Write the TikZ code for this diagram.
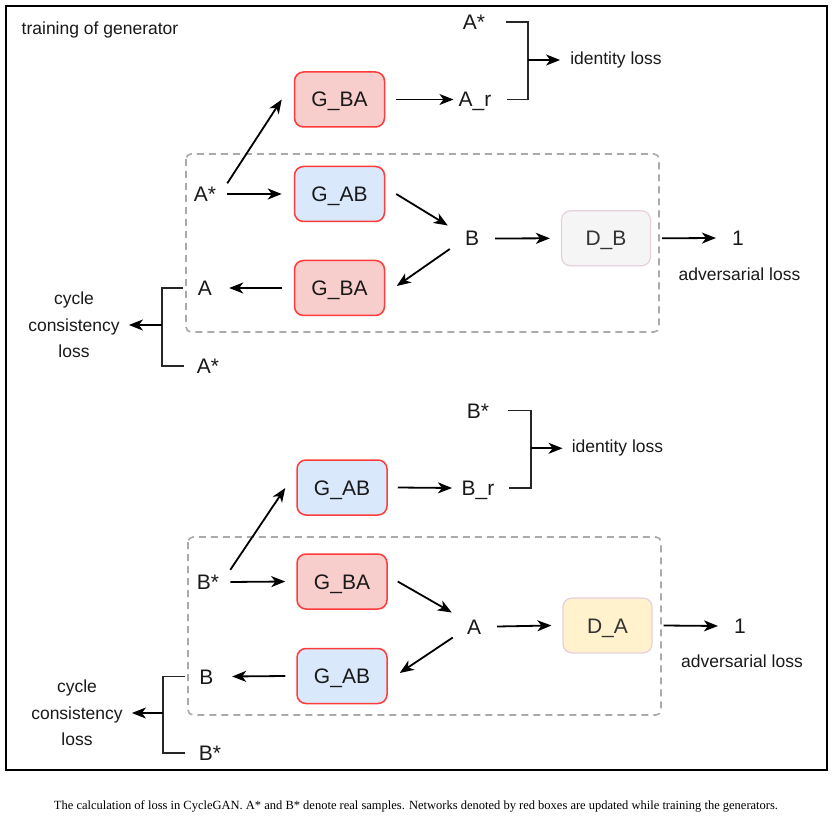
\documentclass[tikz,border=0pt]{standalone}
\usepackage{fontspec}
\setmainfont{Liberation Sans}
\newfontfamily\captionfont{Liberation Serif}
\usetikzlibrary{arrows.meta}

\definecolor{genred}{HTML}{FF3B3B}
\definecolor{redfill}{HTML}{F8CECC}
\definecolor{bluefill}{HTML}{DAE8FC}
\definecolor{greyfill}{HTML}{F5F5F5}
\definecolor{yellowfill}{HTML}{FFF2CC}
\definecolor{discpink}{HTML}{E6D0DE}
\definecolor{dashgray}{HTML}{AAAAAA}

\begin{document}
\begin{tikzpicture}[
  x=1pt, y=-1pt,
  gen/.style={draw=genred, line width=1.5pt, rounded corners=9pt, minimum width=90pt, minimum height=55pt, font=\fontsize{21}{25}\selectfont, text height=15pt, text depth=0pt, text=black!90},
  disc/.style={draw=discpink, line width=1.2pt, rounded corners=9pt, minimum width=89pt, minimum height=55pt, font=\fontsize{21}{25}\selectfont, text height=15pt, text depth=0pt, text=black!80},
  lbl/.style={inner sep=0pt, font=\fontsize{21}{25}\selectfont, text height=15pt, text depth=0pt, text=black!90},
  note/.style={inner sep=0pt, font=\fontsize{17.5}{26.7}\selectfont, text=black!90},
  arrow/.style={-{Stealth[length=14pt,width=11pt,inset=4pt]}, line width=1.8pt},
  bracket/.style={line width=1.8pt, black!85},
  group/.style={draw=dashgray, line width=1.6pt, dash pattern=on 7pt off 5pt, rounded corners=5pt}
]
\useasboundingbox (0,0) rectangle (833,818);
\draw[line width=2pt] (6,6) rectangle (827,770);
\node[note, anchor=west] (title) at (21.5,30) {training of generator};

% cycle A -> B -> A
\draw[group] (186,154) rectangle (659,332);
\node[lbl] (astarT) at (474,22) {A*};
\node[gen, fill=redfill] (gba1) at (339.5,99.5) {G\_BA};
\node[lbl] (ar) at (475,99.5) {A\_r};
\node[note] (idA) at (616,60) {identity loss};
\node[lbl] (astar1) at (205,194) {A*};
\node[gen, fill=bluefill] (gab1) at (339.5,194) {G\_AB};
\node[lbl] (b1) at (472,238.5) {B};
\node[disc, fill=greyfill] (db) at (606,238.3) {D\_B};
\node[lbl] (one1) at (738,238) {1};
\node[note] (advA) at (739.5,274) {adversarial loss};
\node[gen, fill=redfill] (gba2) at (339.5,288) {G\_BA};
\node[lbl] (a1) at (205,288) {A};
\node[lbl] (astar2) at (208,366) {A*};
\node[note, align=center] (cycA) at (74,325) {cycle\\consistency\\loss};

\draw[arrow] ([shift={(11,-3)}]astar1.north east) -- ([shift={(-12,0)}]gba1.west);
\draw[arrow] ([xshift=11pt]astar1.east) -- ([xshift=-12pt]gab1.west);
\draw[arrow] ([xshift=11pt]gba1.east) -- ([xshift=-5pt]ar.west);
\draw[arrow] ([xshift=11pt]gab1.east) -- ([shift={(-17,-13)}]b1.west);
\draw[arrow] ([xshift=16pt]b1.east) -- ([xshift=-11pt]db.west);
\draw[arrow] ([xshift=11pt]db.east) -- ([xshift=-16pt]one1.west);
\draw[arrow] ([shift={(-15,10.5)}]b1.west) -- ([shift={(11.5,-2)}]gba2.east);
\draw[arrow] ([xshift=-11.5pt]gba2.west) -- ([xshift=17pt]a1.east);
\draw[bracket] ([xshift=21pt]astarT.east) -- ++(22,0) coordinate (jA) |- ([xshift=15pt]ar.east);
\draw[arrow] (jA |- idA.west) -- ([xshift=-10pt]idA.west);
\draw[bracket] ([xshift=-15pt]a1.west) -- ++(-21,0) coordinate (jC) |- ([xshift=-13pt]astar2.west);
\draw[arrow] (jC |- cycA.east) -- ([xshift=9pt]cycA.east);

% cycle B -> A -> B
\draw[group] (188,537) rectangle (661,715);
\node[lbl] (bstarT) at (478,410.5) {B*};
\node[gen, fill=bluefill] (gab3) at (342,487.5) {G\_AB};
\node[lbl] (br) at (478,488) {B\_r};
\node[note] (idB) at (617.5,448.3) {identity loss};
\node[lbl] (bstar1) at (208,582) {B*};
\node[gen, fill=redfill] (gba3) at (342,581.5) {G\_BA};
\node[lbl] (a3) at (474,626.5) {A};
\node[disc, fill=yellowfill] (da) at (607.5,625.5) {D\_A};
\node[lbl] (one2) at (740,626) {1};
\node[note] (advB) at (742,661.5) {adversarial loss};
\node[gen, fill=bluefill] (gab4) at (342,676) {G\_AB};
\node[lbl] (b3) at (206.5,676.5) {B};
\node[lbl] (bstar2) at (210,753) {B*};
\node[note, align=center] (cycB) at (77,713) {cycle\\consistency\\loss};

\draw[arrow] ([shift={(11,-4.5)}]bstar1.north east) -- ([shift={(-11,0.5)}]gab3.west);
\draw[arrow] ([xshift=11pt]bstar1.east) -- ([xshift=-11pt]gba3.west);
\draw[arrow] ([xshift=10pt]gab3.east) -- ([xshift=-9.5pt]br.west);
\draw[arrow] ([xshift=10pt]gba3.east) -- ([shift={(-15,-14)}]a3.west);
\draw[arrow] ([xshift=16pt]a3.east) -- ([xshift=-11pt]da.west);
\draw[arrow] ([xshift=11pt]da.east) -- ([xshift=-16pt]one2.west);
\draw[arrow] ([shift={(-14,11)}]a3.west) -- ([shift={(12,-3)}]gab4.east);
\draw[arrow] ([xshift=-11pt]gab4.west) -- ([xshift=18.5pt]b3.east);
\draw[bracket] ([xshift=19pt]bstarT.east) -- ++(23,0) coordinate (jB) |- ([xshift=14pt]br.east);
\draw[arrow] (jB |- idB.west) -- ([xshift=-9pt]idB.west);
\draw[bracket] ([xshift=-14.5pt]b3.west) -- ++(-22,0) coordinate (jD) |- ([xshift=-14pt]bstar2.west);
\draw[arrow] (jD |- cycB.east) -- ([xshift=9pt]cycB.east);

\node[font=\captionfont\fontsize{12.5}{14}\selectfont] (caption) at (416,806.5) {The calculation of loss in CycleGAN. A* and B* denote real samples. Networks denoted by red boxes are updated while training the generators.};
\end{tikzpicture}
\end{document}
